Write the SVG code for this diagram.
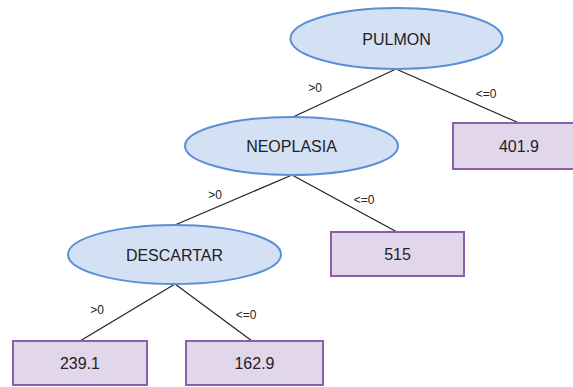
<svg xmlns="http://www.w3.org/2000/svg" width="573" height="387" viewBox="0 0 573 387">
<style>
.dec ellipse{fill:#d4e0f4;stroke:#5a8ed5;stroke-width:2}
.leaf rect{fill:#e2d7ea;stroke:#8c5fa9;stroke-width:2}
.t{font-family:"Liberation Sans",Arial,sans-serif;font-size:16px;fill:#222;text-anchor:middle}
.l{font-family:"Liberation Sans",Arial,sans-serif;font-size:12px;fill:#222;text-anchor:middle}
#edges line{stroke:#222;stroke-width:1.2}
</style>
<rect width="573" height="387" fill="#fff"/>
<g id="edges">
<line x1="396" y1="69" x2="293" y2="117"/>
<line x1="396" y1="69" x2="519" y2="123"/>
<line x1="292" y1="175" x2="175" y2="225"/>
<line x1="292" y1="175" x2="397" y2="232"/>
<line x1="175" y1="284" x2="80" y2="341"/>
<line x1="175" y1="284" x2="252" y2="341"/>
<text class="l" x="315" y="92">&gt;0</text>
<text class="l" x="486" y="98">&lt;=0</text>
<text class="l" x="215" y="199">&gt;0</text>
<text class="l" x="364" y="204">&lt;=0</text>
<text class="l" x="97" y="314">&gt;0</text>
<text class="l" x="246" y="319">&lt;=0</text>
</g>
<g id="pulmon" class="dec"><ellipse cx="396.5" cy="38.5" rx="106" ry="30.5"/><text class="t" x="396.5" y="44.5">PULMON</text></g>
<g id="leaf4019" class="leaf"><rect x="453" y="123" width="133" height="46"/><text class="t" x="519" y="152">401.9</text></g>
<g id="neoplasia" class="dec"><ellipse cx="291.5" cy="146" rx="106.5" ry="29"/><text class="t" x="291.5" y="152">NEOPLASIA</text></g>
<g id="leaf515" class="leaf"><rect x="331" y="232" width="133" height="44"/><text class="t" x="397.5" y="260">515</text></g>
<g id="descartar" class="dec"><ellipse cx="174.5" cy="254.5" rx="106.5" ry="29.5"/><text class="t" x="174.5" y="260.5">DESCARTAR</text></g>
<g id="leaf2391" class="leaf"><rect x="13" y="341" width="134" height="44"/><text class="t" x="80" y="369">239.1</text></g>
<g id="leaf1629" class="leaf"><rect x="186" y="341" width="137" height="44"/><text class="t" x="254.5" y="369">162.9</text></g>
</svg>
